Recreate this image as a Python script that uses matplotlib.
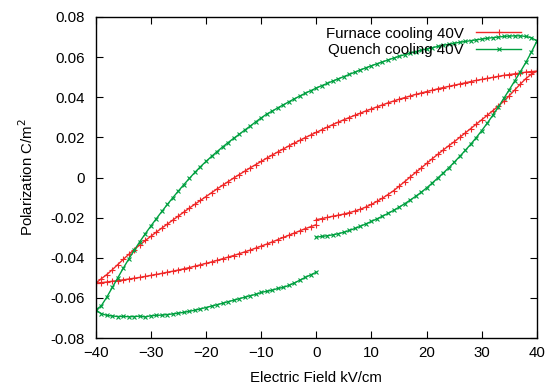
import numpy as np
import matplotlib
matplotlib.use("Agg")
import matplotlib.pyplot as plt

plt.rcParams['font.family'] = ['Liberation Sans', 'DejaVu Sans']

# Field sweeps (kV/cm): 0 -> +40, +40 -> -40, -40 -> 0
e_rise = list(range(0, 41))
e_fall = list(range(40, -41, -1))
e_back = list(range(-40, 1))

# Furnace cooling 40V polarization (C/m^2)
furnace_rise = [-0.0210, -0.0205, -0.0199, -0.0193, -0.0188, -0.0182, -0.0175, -0.0167, -0.0158, -0.0147,
                -0.0134, -0.0119, -0.0103, -0.0085, -0.0066, -0.0044, -0.0021, 0.0002, 0.0025, 0.0047,
                0.0070, 0.0093, 0.0115, 0.0137, 0.0158, 0.0178, 0.0200, 0.0222, 0.0244, 0.0266,
                0.0288, 0.0310, 0.0333, 0.0356, 0.0380, 0.0408, 0.0437, 0.0466, 0.0493, 0.0515, 0.0530]
furnace_fall = [0.0530, 0.0528, 0.0525, 0.0521, 0.0517, 0.0513, 0.0509, 0.0504, 0.0499, 0.0494,
                0.0489, 0.0484, 0.0478, 0.0472, 0.0466, 0.0460, 0.0454, 0.0448, 0.0442, 0.0435,
                0.0428, 0.0421, 0.0414, 0.0406, 0.0398, 0.0390, 0.0381, 0.0372, 0.0362, 0.0352,
                0.0342, 0.0332, 0.0321, 0.0310, 0.0299, 0.0288, 0.0276, 0.0264, 0.0251, 0.0238,
                0.0225, 0.0212, 0.0199, 0.0185, 0.0171, 0.0157, 0.0142, 0.0127, 0.0112, 0.0096,
                0.0080, 0.0064, 0.0048, 0.0031, 0.0014, -0.0003, -0.0021, -0.0039, -0.0057, -0.0076,
                -0.0095, -0.0114, -0.0133, -0.0152, -0.0172, -0.0192, -0.0212, -0.0232, -0.0252, -0.0272,
                -0.0293, -0.0314, -0.0336, -0.0359, -0.0383, -0.0408, -0.0434, -0.0460, -0.0484, -0.0505,
                -0.0527]
furnace_back = [-0.0527, -0.0524, -0.0521, -0.0517, -0.0514, -0.0510, -0.0506, -0.0502, -0.0498, -0.0493,
                -0.0488, -0.0483, -0.0478, -0.0472, -0.0467, -0.0461, -0.0455, -0.0449, -0.0442, -0.0435,
                -0.0428, -0.0421, -0.0413, -0.0405, -0.0397, -0.0389, -0.0380, -0.0371, -0.0362, -0.0352,
                -0.0342, -0.0332, -0.0321, -0.0310, -0.0299, -0.0288, -0.0277, -0.0266, -0.0255, -0.0245,
                -0.0235]

# Quench cooling 40V polarization (C/m^2)
quench_rise = [-0.0297, -0.0294, -0.0290, -0.0286, -0.0280, -0.0273, -0.0264, -0.0254, -0.0243, -0.0231,
               -0.0219, -0.0206, -0.0193, -0.0179, -0.0164, -0.0148, -0.0131, -0.0113, -0.0094, -0.0074,
               -0.0052, -0.0028, -0.0003, 0.0022, 0.0048, 0.0076, 0.0105, 0.0135, 0.0166, 0.0199,
               0.0234, 0.0271, 0.0310, 0.0351, 0.0394, 0.0438, 0.0482, 0.0527, 0.0574, 0.0625, 0.0680]
quench_fall = [0.0680, 0.0697, 0.0703, 0.0706, 0.0706, 0.0705, 0.0703, 0.0700, 0.0697, 0.0694,
               0.0690, 0.0686, 0.0682, 0.0678, 0.0674, 0.0669, 0.0664, 0.0659, 0.0653, 0.0647,
               0.0641, 0.0634, 0.0627, 0.0620, 0.0612, 0.0604, 0.0595, 0.0586, 0.0576, 0.0567,
               0.0557, 0.0547, 0.0536, 0.0525, 0.0514, 0.0503, 0.0492, 0.0481, 0.0469, 0.0458,
               0.0446, 0.0433, 0.0420, 0.0406, 0.0392, 0.0377, 0.0362, 0.0347, 0.0331, 0.0316,
               0.0297, 0.0277, 0.0256, 0.0236, 0.0215, 0.0195, 0.0174, 0.0152, 0.0129, 0.0105,
               0.0080, 0.0054, 0.0026, -0.0004, -0.0035, -0.0067, -0.0100, -0.0134, -0.0169, -0.0205,
               -0.0242, -0.0280, -0.0320, -0.0362, -0.0406, -0.0452, -0.0500, -0.0548, -0.0597, -0.0640,
               -0.0660]
quench_back = [-0.0660, -0.0678, -0.0687, -0.0690, -0.0693, -0.0692, -0.0694, -0.0693, -0.0691, -0.0695,
               -0.0689, -0.0687, -0.0686, -0.0683, -0.0680, -0.0676, -0.0672, -0.0667, -0.0661, -0.0655,
               -0.0648, -0.0641, -0.0634, -0.0627, -0.0619, -0.0612, -0.0604, -0.0597, -0.0589, -0.0583,
               -0.0573, -0.0567, -0.0562, -0.0553, -0.0548, -0.0538, -0.0526, -0.0512, -0.0498, -0.0485,
               -0.0472]

x_ticks = [-40, -30, -20, -10, 0, 10, 20, 30, 40]
y_ticks = [-0.08, -0.06, -0.04, -0.02, 0, 0.02, 0.04, 0.06, 0.08]
y_tick_labels = ['-0.08', '-0.06', '-0.04', '-0.02', '0', '0.02', '0.04', '0.06', '0.08']

red = '#f02828'
green = '#00a040'
fs = 10.8

fig = plt.figure(figsize=(5.49, 3.89), dpi=100)
ax = fig.add_axes([0.1743, 0.1311, 0.8037, 0.8252])

e_furnace = e_rise + e_fall + e_back
p_furnace = furnace_rise + furnace_fall + furnace_back
e_quench = e_rise + e_fall + e_back
p_quench = quench_rise + quench_fall + quench_back

ax.plot(e_furnace, p_furnace, color=red, lw=1.0, marker='+', ms=4.5, mew=0.8,
        label='Furnace cooling 40V')
ax.plot(e_quench, p_quench, color=green, lw=1.0, marker='x', ms=3.5, mew=0.8,
        label='Quench cooling 40V')

ax.set_xlim(-40, 40)
ax.set_ylim(-0.08, 0.08)
ax.set_xticks(x_ticks)
ax.set_yticks(y_ticks)
ax.set_yticklabels(y_tick_labels)
ax.tick_params(direction='in', length=5, width=0.8, top=True, right=True,
               labelsize=fs, colors='black')
ax.tick_params(axis='y', pad=8)
ax.tick_params(axis='x', pad=6)
for s in ax.spines.values():
    s.set_linewidth(1.0)

ax.set_xlabel('Electric Field kV/cm', fontsize=fs, labelpad=8)
ax.set_ylabel('Polarization C/m$^2$', fontsize=fs, labelpad=10)

leg = ax.legend(loc='upper right', frameon=False, markerfirst=False, fontsize=fs,
                handlelength=3.0, handletextpad=0.8, borderaxespad=0.0, borderpad=0.0,
                labelspacing=0.15, bbox_to_anchor=(0.964, 0.97))

fig.savefig('out.png', dpi=100)
